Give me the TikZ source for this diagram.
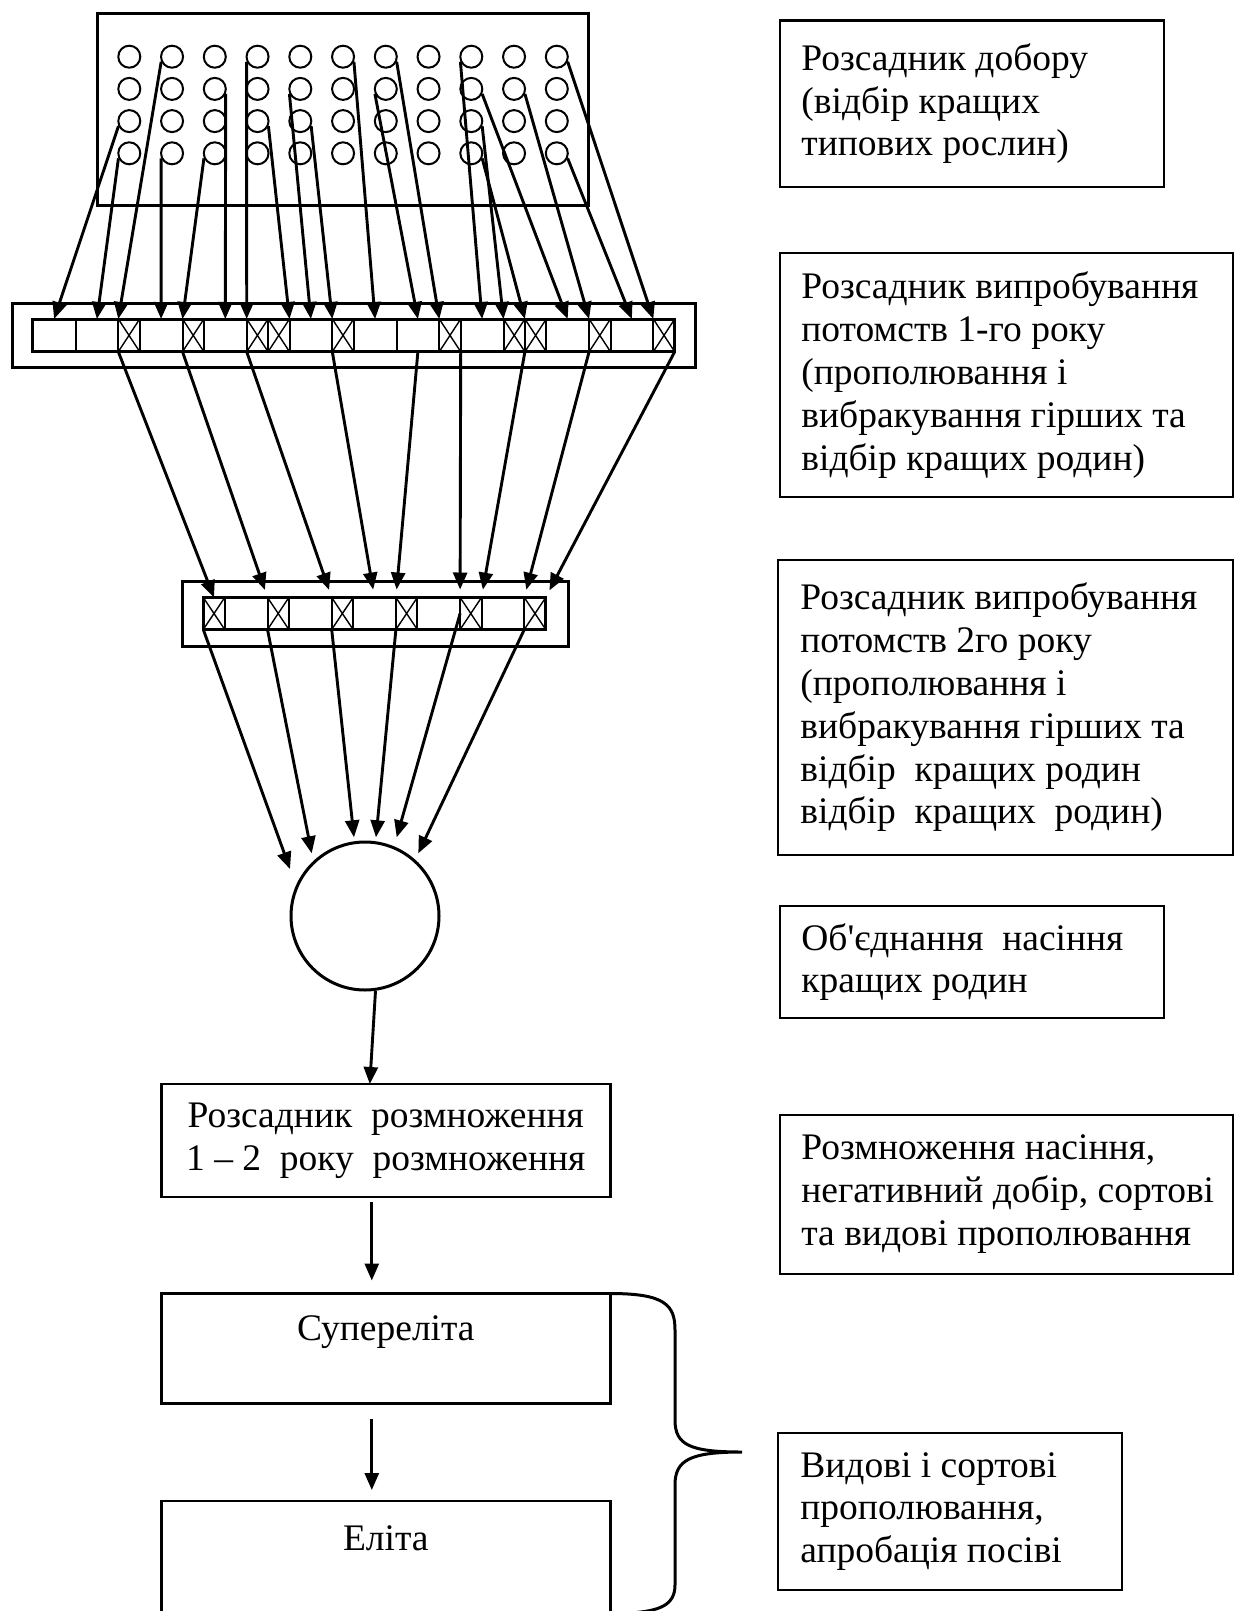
\documentclass[tikz,border=0pt]{standalone}
\usepackage{fontspec}
\setmainfont{Liberation Serif}
\usetikzlibrary{arrows.meta}

\newcommand{\notesize}{\fontsize{18.75}{21.4}\selectfont}

\begin{document}
\begin{tikzpicture}[x=0.5pt, y=-0.5pt, font=\notesize,
  arr/.style={-{Triangle[length=8.5pt,width=7pt]}, line width=1.45pt},
  frame/.style={draw, line width=1.5pt},
  seed/.style={circle, draw, line width=1pt, minimum size=11pt, inner sep=0pt},
  cell/.style={rectangle, draw, line width=1pt, inner sep=0pt, outer sep=0pt},
  note/.style={draw, line width=1.1pt},
  notetext/.style={anchor=west, align=left, inner sep=0pt},
  stage/.style={rectangle, draw, line width=1.4pt, inner sep=0pt, outer sep=0pt, minimum width=224.5pt}]
\useasboundingbox (0,0) rectangle (1234,1611);

% selection nursery
\draw[frame] (97.6,13.4) rectangle (588.7,205.5);
\foreach \i in {0,...,10}
  \foreach \j in {0,...,3}
    \node[seed] (c-\i-\j) at ({129.3+42.75*\i},{56.7+32.2*\j}) {};

% first-year strip
\draw[frame] (12,303) rectangle (695.6,367);
\foreach \k/\a/\b in {1/0/2, 2/2/4, 3/4/5, 4/5/7, 5/7/8, 6/8/10, 7/10/11, 8/11/12, 9/12/14, 10/14/15,
    11/15/17, 12/17/19, 13/19/20, 14/20/22, 15/22/23, 16/23/24, 17/24/26, 18/26/27, 19/27/29, 20/29/30}
  \node[cell, minimum width={(\b-\a)*10.7pt}, minimum height=16.35pt] (p\k) at ({32.7+(\a+\b)*10.7},335.35) {};
\foreach \k in {3,5,7,8,10,13,15,16,18,20}
  \draw[line width=0.7pt] (p\k.north west) -- (p\k.south east) (p\k.north east) -- (p\k.south west);
\draw[line width=1.5pt] (p1.north west) rectangle (p20.south east);

% second-year strip
\draw[frame] (182.7,581.7) rectangle (568.3,646);
\foreach \k/\a/\b in {1/0/1, 2/1/3, 3/3/4, 4/4/6, 5/6/7, 6/7/9, 7/9/10, 8/10/12, 9/12/13, 10/13/15, 11/15/16}
  \node[cell, minimum width={(\b-\a)*10.7pt}, minimum height=16pt] (q\k) at ({203.3+(\b+\a)*10.7},613.5) {};
\foreach \k in {1,3,5,7,9,11}
  \draw[line width=0.7pt] (q\k.north west) -- (q\k.south east) (q\k.north east) -- (q\k.south west);
\draw[line width=1.5pt] (q1.north west) rectangle (q11.south east);

% plants to first-year families
\foreach \s/\t in {c-0-2.205/p1.north, c-0-3.205/p2.north, c-1-0.205/p3.north west, c-1-3.205/p4.north,
    c-2-3.205/p5.north west, c-2-1.335/p6.north, c-3-0.205/p7.north west, c-3-2.335/p8.north east,
    c-4-1.205/p9.north, c-4-2.335/p10.north west, c-5-0.335/p11.north, c-6-1.205/p12.north,
    c-6-0.335/p13.north west, c-8-0.205/p14.north, c-8-2.335/p15.north west, c-8-3.335/p16.north west,
    c-8-1.335/p17.north, c-9-1.335/p18.north west, c-10-3.335/p19.north, c-10-0.335/p20.north west}
  \draw[arr] (\s) -- (\t);

% first-year to second-year
\draw[arr] (p3.south west) -- (q1.north);
\foreach \s/\t in {p5.south west/q3.north west, p7.south west/q5.north west, p10.south west/q6.north,
    p12.south/q7.north west, p13.south east/q9.north west, p15.south east/q10.north west,
    p18.south west/q11.north west, p20.south east/q11.north east}
  \draw[arr, shorten >=4pt] (\s) -- (\t);

% pooled seed
\node[circle, draw, line width=1.5pt, minimum size=74pt, inner sep=0pt] (pool) at (365,916) {};
\foreach \k/\x/\y in {1/290/869, 2/311.7/853.3, 3/354/837.3, 4/376/837.3, 5/396.7/837.3, 6/418.3/853.3}
  \coordinate (in\k) at (\x,\y);
\foreach \s/\t in {q1.south west/in1, q3.south west/in2, q5.south west/in3, q7.south west/in4,
    q9.west/in5, q11.south west/in6}
  \draw[arr] (\s) -- (\t);

% multiplication and elite
\node[stage, minimum height=56.5pt, align=center] (r1) at (385.8,1140.5)
  {Розсадник\ \ розмноження\\1 – 2\ \ року\ \ розмноження};
\node[stage, minimum height=55pt] (r2) at (385.8,1348.5) {};
\node (r2t) at ([yshift=-19.5pt]r2.north) {Супереліта};
\node[stage, minimum height=57.5pt] (r3) at (385.8,1558.5) {};
\node (r3t) at ([yshift=-18.5pt]r3.north) {Еліта};
\draw[arr] (pool.278) -- ([xshift=-8pt]r1.north);
\draw[arr, shorten <=2.5pt, shorten >=6.5pt] ([xshift=-7pt]r1.south) -- ([xshift=-7pt]r2.north);
\draw[arr, shorten <=7.5pt, shorten >=5.5pt] ([xshift=-7pt]r2.south) -- ([xshift=-7pt]r3.north);
\draw[line width=1.5pt] (r2.north east) .. controls (665,1293.5) and (675,1305) .. (675,1330)
  -- (675,1420) .. controls (675,1445) and (690,1452) .. (742,1452)
  .. controls (690,1452) and (675,1460) .. (675,1485)
  -- (675,1585) .. controls (675,1605) and (660,1611) .. (630,1613);

% notes on the right
\draw[note] (780,20.5) rectangle (1164,187);
\node[notetext] (n1) at (801,103.75)
  {Розсадник добору\\(відбір кращих\\типових рослин)};
\draw[note] (780,252.7) rectangle (1232.8,497.3);
\node[notetext] (n2) at (801,375)
  {Розсадник випробування\\потомств 1-го року\\(прополювання і\\вибракування гірших та\\відбір кращих родин)};
\draw[note] (778,560) rectangle (1232.8,854.8);
\node[notetext] (n3) at (800,707.4)
  {Розсадник випробування\\потомств 2го року\\(прополювання і\\вибракування гірших та\\відбір\ \ кращих родин\\відбір\ \ кращих\ \ родин)};
\draw[note] (780,906) rectangle (1164,1018);
\node[notetext] (n4) at (801,962)
  {Об\textquotesingle єднання\ \ насіння\\кращих родин};
\draw[note] (780,1114.7) rectangle (1232.8,1274);
\node[notetext] (n5) at (801,1194.35)
  {Розмноження насіння,\\негативний добір, сортові\\та видові прополювання};
\draw[note] (778,1433) rectangle (1122,1590);
\node[notetext] (n6) at (800,1511.5)
  {Видові і сортові\\прополювання,\\апробація посіві};
\end{tikzpicture}
\end{document}
